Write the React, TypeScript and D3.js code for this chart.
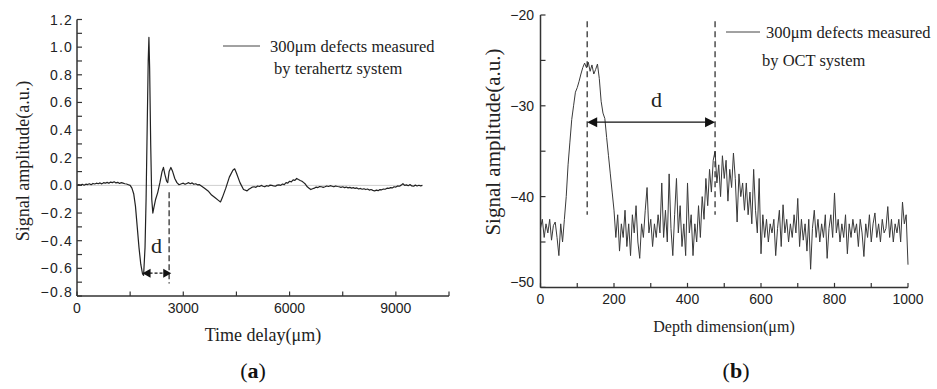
import React from "react";
import * as d3 from "d3";

// ---------- Panel (a) data: terahertz time-domain signal ----------
const timeDelay = [
  0, 50, 100, 150, 200, 250, 300, 350, 400, 450, 500, 550, 600, 650, 700, 750, 800, 850, 900, 950,
  1000, 1050, 1100, 1150, 1200, 1250, 1300, 1350, 1400, 1450, 1500, 1550, 1600, 1650, 1700, 1750, 1800, 1850, 1880,
  1920, 1950, 1980, 2010, 2030, 2050, 2080, 2110, 2140, 2170, 2220, 2280, 2340, 2400, 2440, 2480, 2530, 2560,
  2600, 2650, 2700, 2760, 2820, 2880, 2950, 3000, 3050, 3100, 3150, 3200, 3250, 3300, 3350, 3400, 3450, 3500,
  3600, 3700, 3800, 3900, 4000, 4050, 4100, 4200, 4300, 4400, 4450, 4500, 4600, 4700, 4800, 4850, 4900, 4950, 5000,
  5050, 5100, 5150, 5200, 5250, 5300, 5350, 5400, 5450, 5500, 5550, 5600, 5650, 5700, 5750, 5800, 5850, 5900, 5950,
  6000, 6050, 6100, 6150, 6200, 6250, 6300, 6350, 6400, 6450, 6500, 6550, 6600, 6650, 6700, 6750, 6800, 6850, 6900,
  6950, 7000, 7050, 7100, 7150, 7200, 7250, 7300, 7350, 7400, 7450, 7500, 7550, 7600, 7650, 7700, 7750, 7800, 7850,
  7900, 7950, 8000, 8050, 8100, 8150, 8200, 8250, 8300, 8350, 8400, 8450, 8500, 8550, 8600, 8650, 8700, 8750, 8800,
  8850, 8900, 8950, 9000, 9050, 9100, 9150, 9200, 9250, 9300, 9350, 9400, 9450, 9500, 9550, 9600, 9650, 9700, 9750,
];
const thzAmplitude = [
  0.0, 0.006, 0.002, 0.008, 0.001, 0.009, 0.006, 0.012, 0.005, 0.014, 0.01, 0.016, 0.012, 0.018, 0.011, 0.02, 0.016, 0.022, 0.015, 0.024,
  0.02, 0.026, 0.018, 0.022, 0.014, 0.02, 0.016, 0.012, 0.01, 0.005, 0.0, -0.02, -0.06, -0.15, -0.3, -0.45, -0.57, -0.64, -0.65,
  -0.45, -0.1, 0.4, 0.9, 1.07, 0.85, 0.3, -0.1, -0.2, -0.16, -0.1, -0.05, 0.02, 0.1, 0.13, 0.08, 0.03, 0.02,
  0.1, 0.13, 0.1, 0.05, 0.02, 0.005, 0.012, 0.016, 0.008, 0.014, 0.02, 0.012, 0.018, 0.008, 0.012, 0.004, 0.006, -0.002,
  -0.02, -0.04, -0.07, -0.09, -0.11, -0.12, -0.09, -0.02, 0.06, 0.11, 0.12, 0.09, 0.02, -0.03, -0.04, -0.028, -0.02, -0.012, -0.01,
  -0.014, -0.004, -0.008, 0.0, -0.006, -0.01, -0.002, -0.006, 0.002, 0.0, -0.004, -0.006, 0.002, 0.004, 0.0, 0.01, 0.006, 0.02, 0.016,
  0.03, 0.026, 0.04, 0.036, 0.05, 0.042, 0.035, 0.03, 0.02, 0.008, -0.01, -0.02, -0.03, -0.024, -0.02, -0.012, -0.016, -0.008, -0.01,
  -0.014, -0.01, -0.004, -0.008, -0.002, -0.006, -0.01, -0.004, -0.008, -0.01, -0.014, -0.01, -0.016, -0.012, -0.018, -0.014, -0.02, -0.016, -0.022,
  -0.018, -0.026, -0.022, -0.028, -0.024, -0.03, -0.026, -0.034, -0.03, -0.036, -0.04, -0.034, -0.038, -0.03, -0.032, -0.026, -0.028, -0.02, -0.022,
  -0.016, -0.018, -0.01, -0.012, -0.004, -0.006, 0.002, 0.012, 0.0, 0.004, -0.002, 0.006, -0.004, -0.006, 0.002, -0.004, 0.001, -0.003, 0.0,
];
const thzXTicks = [0, 3000, 6000, 9000];
const thzYTicks = [-0.8, -0.6, -0.4, -0.2, 0.0, 0.2, 0.4, 0.6, 0.8, 1.0, 1.2];

// ---------- Panel (b) data: OCT depth profile (5 µm steps) ----------
const depthStep = 5;
const octAmplitude = [
  -43.5, -42.5, -44.5, -43, -44, -42.5, -44.8, -43.2, -42.8, -44.5, -46.5, -43, -45, -42.5,
  -40, -36.5, -34, -31.5, -30, -28.5, -28, -27.3, -26.5, -25.8, -25.3, -25.8, -25.2, -26.2, -25.5, -26.5,
  -26, -25.4, -27, -29.5, -30.8, -31.4, -33.5, -35.5, -37.5, -39.5, -41.5,
  -44.5, -42, -46, -43, -44.5, -41.5, -45.5, -43, -46.5, -42, -44, -41, -45, -46.8, -43, -44.5, -41.5, -39, -44, -42.5,
  -45.5, -43, -44.5, -42, -44, -38.5, -44.5, -41.5, -45, -37.5, -43.5, -46.5, -42, -38, -44, -41, -45.5, -43, -46.5,
  -38.5, -44, -42, -46.5, -43, -45, -41,
  -44.5, -40, -42.5, -38, -41, -37, -39.5, -36, -35, -38.5, -36.5, -40, -35.5, -38, -36, -40.5, -37, -39, -35.2, -38,
  -42.8, -37.5, -40, -38.5, -41.5, -38.5, -42, -39.5, -43, -37, -41.5, -44, -38, -46.3,
  -42, -44.5, -42.5, -45, -43, -44, -42.5, -46.5, -43.5, -41.5, -45.5, -40.9, -44, -42.5, -45, -43, -44.5, -42, -44, -40.2,
  -45.5, -42.5, -44.8, -43, -46, -42.5, -48, -43.5, -41.5, -44.5, -42.5, -45, -43, -44.5, -42, -46.8, -43.5, -42, -44.5, -39.6,
  -44, -42.5, -45, -43, -44.5, -42, -46.3, -43, -44.5, -42.5, -44, -43, -45.5, -42.5, -44, -46.6, -43, -44.5, -42, -45,
  -43, -41.8, -44.5, -43, -45, -42.5, -44, -43.5, -41.1, -44.5, -42.5, -45, -43, -44, -42.5, -45, -40.6, -43, -42, -47.5,
];
const octXTicks = [0, 200, 400, 600, 800, 1000];
const octYTicks = [-50, -40, -30, -20];

// annotation values (data units)
const thzMarkerX = [1850, 2660];
const thzDashX = 2600;
const octMarkerX = [127, 475];

const SERIF = "'Liberation Serif', 'Times New Roman', serif";
const SANS = "'Liberation Sans', Arial, sans-serif";
const AXIS = "#333";

export default function App() {
  // ---- scales (a)
  const xa = d3.scaleLinear().domain([0, 10500]).range([77, 449]);
  const ya = d3.scaleLinear().domain([-0.8, 1.2]).range([296, 19.5]);
  // ---- scales (b)
  const xb = d3.scaleLinear().domain([0, 1000]).range([540.5, 908]);
  const yb = d3.scaleLinear().domain([-50, -20]).range([287.4, 15]);

  const thzPts = timeDelay.map((t, i) => [t, thzAmplitude[i]] as [number, number]);
  const octPts = octAmplitude.map((v, i) => [i * depthStep, v] as [number, number]);

  const lineA = d3
    .line<[number, number]>()
    .x((d) => xa(d[0]))
    .y((d) => ya(d[1]));
  const lineB = d3
    .line<[number, number]>()
    .x((d) => xb(d[0]))
    .y((d) => yb(d[1]));

  const aMinor = d3.range(0, 10500 + 1, 1500);
  const aYMinor = d3.range(-8, 13, 1).map((v) => v / 10);
  const bMinor = d3.range(0, 1001, 100);
  const bYMinor = d3.range(-50, -19, 5);

  const fmtA = (v: number) => {
    const s = Math.abs(v).toFixed(1);
    return (v < 0 ? "\u2212" : "") + s;
  };

  const arrowHead = (tipX: number, y: number, dir: number, len: number, half: number) =>
    `M${tipX},${y} L${tipX + dir * len},${y - half} L${tipX + dir * len},${y + half} Z`;

  const aArrowY = ya(-0.635);
  const bArrowY = yb(-31.8);

  return (
    <svg
      width={937}
      height={389}
      style={{ position: "absolute", left: 0, top: 0, background: "#fff" }}
    >
      <rect x={0} y={0} width={937} height={389} fill="#fff" />

      {/* ================= Panel (a) ================= */}
      {/* zero reference line */}
      <line x1={xa(0)} x2={xa(9750)} y1={ya(0)} y2={ya(0)} stroke="#cfcfcf" strokeWidth={1} />
      <path d={lineA(thzPts) || ""} fill="none" stroke="#222" strokeWidth={1.2} strokeLinejoin="round" />

      {/* dashed marker */}
      <line
        x1={xa(thzDashX)} x2={xa(thzDashX)} y1={ya(-0.05)} y2={ya(-0.71)}
        stroke="#222" strokeWidth={1.2} strokeDasharray="6,3"
      />
      {/* d arrow */}
      <line
        x1={xa(thzMarkerX[0]) + 7} x2={xa(thzMarkerX[1]) - 7} y1={aArrowY} y2={aArrowY}
        stroke="#111" strokeWidth={1.2} strokeDasharray="3,2"
      />
      <path d={arrowHead(xa(thzMarkerX[0]), aArrowY, 1, 8, 4.5)} fill="#111" />
      <path d={arrowHead(xa(thzMarkerX[1]), aArrowY, -1, 8, 4.5)} fill="#111" />
      <text x={156.5} y={253} fontFamily={SERIF} fontSize={22} textAnchor="middle" fill="#222">d</text>

      {/* axes */}
      <line x1={xa(0)} x2={xa(0)} y1={ya(1.2)} y2={ya(-0.8)} stroke={AXIS} strokeWidth={1.5} />
      <line x1={xa(0)} x2={xa(10500)} y1={ya(-0.8)} y2={ya(-0.8)} stroke={AXIS} strokeWidth={1.5} />
      {aMinor.map((t) => (
        <line key={"ax" + t} x1={xa(t)} x2={xa(t)} y1={ya(-0.8)} y2={ya(-0.8) - 4.5} stroke={AXIS} strokeWidth={1.2} />
      ))}
      {aYMinor.map((t) => (
        <line key={"ay" + t} x1={xa(0)} x2={xa(0) + 5} y1={ya(t)} y2={ya(t)} stroke={AXIS} strokeWidth={1.2} />
      ))}
      {thzXTicks.map((t) => (
        <text key={"axl" + t} x={xa(t)} y={313} fontFamily={SANS} fontSize={14} textAnchor="middle" fill="#222">
          {t}
        </text>
      ))}
      {thzYTicks.map((t) => (
        <text
          key={"ayl" + t}
          x={73}
          y={ya(t) + 5 - (t === -0.8 ? 4 : 0)}
          fontFamily={SANS}
          fontSize={14}
          textAnchor="end"
          letterSpacing={1.2}
          fill="#222"
        >
          {fmtA(t)}
        </text>
      ))}
      <text x={263} y={341} fontFamily={SERIF} fontSize={18} textAnchor="middle" fill="#222">
        Time delay(μm)
      </text>
      <text
        transform={`translate(29,161) rotate(-90)`}
        fontFamily={SERIF}
        fontSize={18}
        textAnchor="middle"
        fill="#222"
      >
        Signal amplitude(a.u.)
      </text>
      {/* legend (a) */}
      <line x1={223} x2={260} y1={46} y2={46} stroke="#444" strokeWidth={1} />
      <text x={270} y={52} fontFamily={SERIF} fontSize={16.5} fill="#222">300μm defects measured</text>
      <text x={274} y={74} fontFamily={SERIF} fontSize={16.5} fill="#222">by terahertz system</text>
      {/* caption (a) */}
      <text x={253} y={378} fontFamily={SERIF} fontSize={22} textAnchor="middle" fill="#111">
        (<tspan fontWeight="bold">a</tspan>)
      </text>

      {/* ================= Panel (b) ================= */}
      <path d={lineB(octPts) || ""} fill="none" stroke="#3a3a3a" strokeWidth={1} strokeLinejoin="round" />
      {octMarkerX.map((m) => (
        <line
          key={"bd" + m}
          x1={xb(m)} x2={xb(m)} y1={yb(-20.7)} y2={yb(-42)}
          stroke="#222" strokeWidth={1.2} strokeDasharray="6,4"
        />
      ))}
      <line
        x1={xb(octMarkerX[0]) + 8} x2={xb(octMarkerX[1]) - 8} y1={bArrowY} y2={bArrowY}
        stroke="#111" strokeWidth={1.3}
      />
      <path d={arrowHead(xb(octMarkerX[0]), bArrowY, 1, 10, 5)} fill="#111" />
      <path d={arrowHead(xb(octMarkerX[1]), bArrowY, -1, 10, 5)} fill="#111" />
      <text x={656.5} y={107} fontFamily={SERIF} fontSize={22} textAnchor="middle" fill="#222">d</text>

      {/* axes */}
      <line x1={xb(0)} x2={xb(0)} y1={yb(-20)} y2={yb(-50)} stroke={AXIS} strokeWidth={1.5} />
      <line x1={xb(0)} x2={xb(1000)} y1={yb(-50)} y2={yb(-50)} stroke={AXIS} strokeWidth={1.5} />
      {bMinor.map((t) => (
        <line key={"bx" + t} x1={xb(t)} x2={xb(t)} y1={yb(-50)} y2={yb(-50) - 4.5} stroke={AXIS} strokeWidth={1.2} />
      ))}
      {bYMinor.map((t) => (
        <line key={"by" + t} x1={xb(0)} x2={xb(0) + 5} y1={yb(t)} y2={yb(t)} stroke={AXIS} strokeWidth={1.2} />
      ))}
      {octXTicks.map((t) => (
        <text key={"bxl" + t} x={xb(t)} y={304} fontFamily={SANS} fontSize={14} textAnchor="middle" fill="#222">
          {t}
        </text>
      ))}
      {octYTicks.map((t) => (
        <text
          key={"byl" + t}
          x={534}
          y={yb(t) + 5 - (t === -50 ? 5 : 0)}
          fontFamily={SANS}
          fontSize={14}
          textAnchor="end"
          fill="#222"
        >
          {"\u2212" + Math.abs(t)}
        </text>
      ))}
      <text x={724} y={332} fontFamily={SERIF} fontSize={16} textAnchor="middle" fill="#222">
        Depth dimension(μm)
      </text>
      <text
        transform={`translate(500,142) rotate(-90)`}
        fontFamily={SERIF}
        fontSize={21}
        textAnchor="middle"
        fill="#222"
      >
        Signal amplitude(a.u.)
      </text>
      {/* legend (b) */}
      <line x1={726} x2={760} y1={32} y2={32} stroke="#444" strokeWidth={1} />
      <text x={766} y={38} fontFamily={SERIF} fontSize={16.5} fill="#222">300μm defects measured</text>
      <text x={762} y={66} fontFamily={SERIF} fontSize={16.5} fill="#222">by OCT system</text>
      {/* caption (b) */}
      <text x={736} y={378} fontFamily={SERIF} fontSize={22} textAnchor="middle" fill="#111">
        (<tspan fontWeight="bold">b</tspan>)
      </text>
    </svg>
  );
}
